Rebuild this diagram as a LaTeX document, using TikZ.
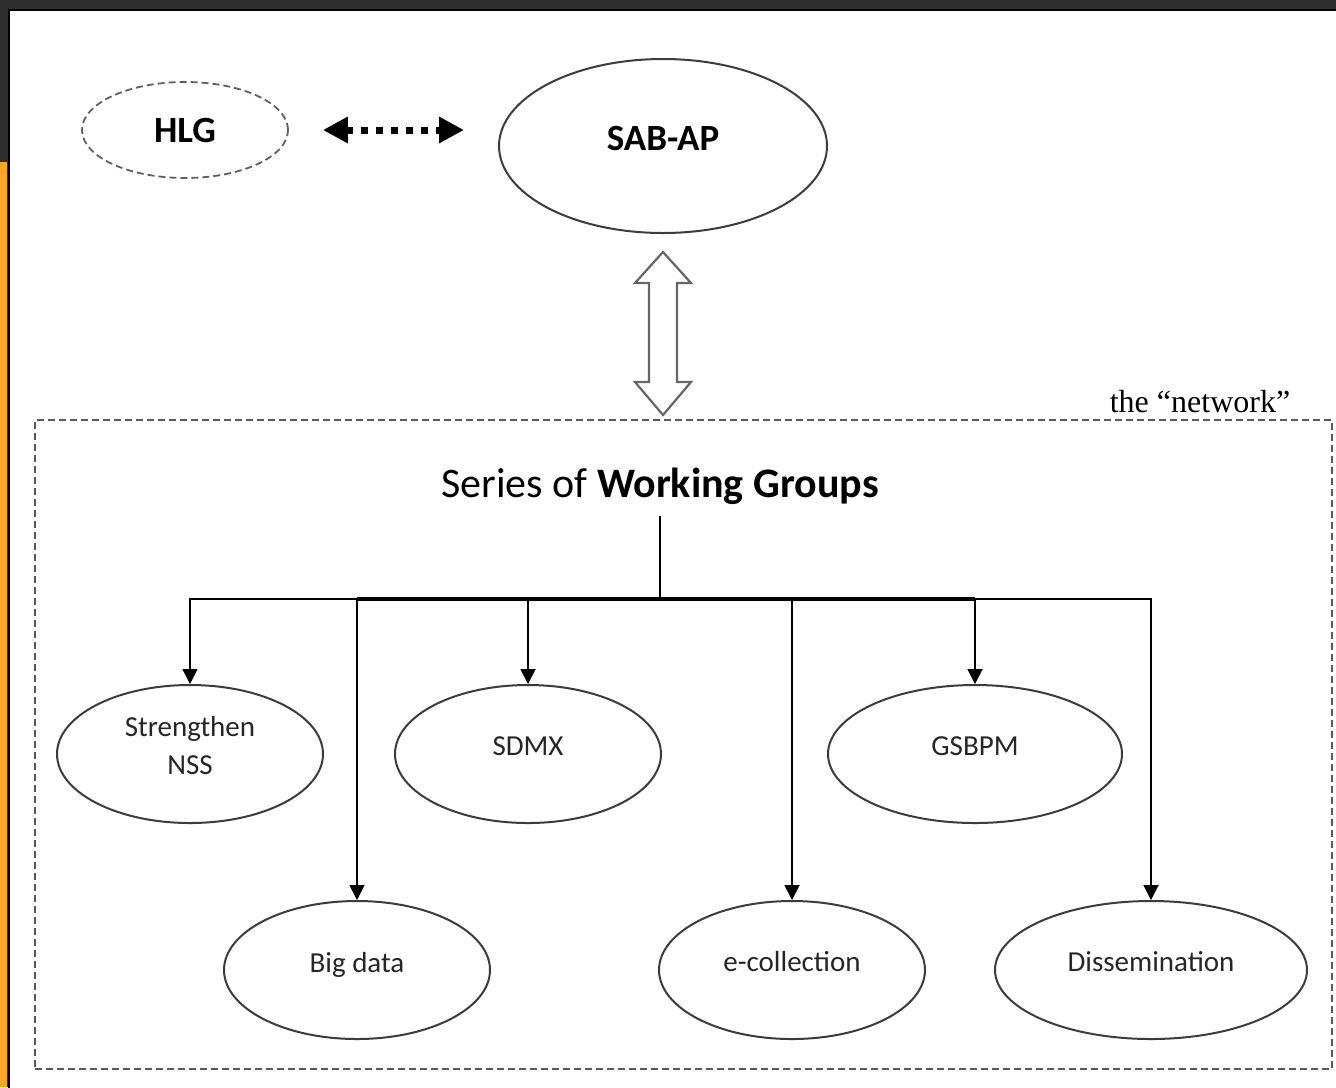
\documentclass[tikz,border=0pt]{standalone}
\usepackage{fontspec}
\setmainfont{Carlito}
\newfontfamily\netfont{Liberation Serif}
\usetikzlibrary{shapes.geometric,arrows.meta}

\definecolor{frame}{RGB}{46,46,46}
\definecolor{stripe}{RGB}{250,166,38}
\definecolor{rim}{RGB}{60,60,60}

\tikzstyle{outer} = [ellipse,draw=gray!75!black,dash pattern=on 3.5pt off 2pt,line width=0.9pt,inner sep=0pt,minimum width=103pt,minimum height=48pt,font=\fontsize{18.5}{22}\selectfont\bfseries]
\tikzstyle{body} = [ellipse,draw=rim,line width=1pt,inner sep=0pt,minimum width=164pt,minimum height=87pt,font=\fontsize{18.5}{22}\selectfont\bfseries,text height=12pt,text depth=8pt]
\tikzstyle{group} = [ellipse,draw=rim,line width=1pt,inner sep=0pt,minimum height=69pt]
\tikzstyle{grouptext} = [align=center,yshift=4pt,text=black!85,font=\fontsize{14.5}{19}\selectfont]
\tikzstyle{netbox} = [rectangle,draw=gray!70!black,dash pattern=on 3.5pt off 2pt,line width=0.9pt,minimum width=648.5pt,minimum height=324.5pt]
\tikzstyle{title} = [anchor=base,inner sep=5.5pt,font=\fontsize{21}{25}\selectfont]
\tikzstyle{dotarrow} = [{Triangle[length=12.5pt,width=12.5pt]}-{Triangle[length=12.5pt,width=12.5pt]},line width=3.5pt,dash pattern=on 3.5pt off 4pt,shorten <=17pt,shorten >=17pt]
\tikzstyle{hollow} = [draw=gray!80!black,line width=1.1pt,fill=white,line join=miter]
\tikzstyle{link} = [-{Triangle[length=7.5pt,width=7.5pt]},line width=0.9pt]

\begin{document}
\begin{tikzpicture}[x=0.5pt,y=-0.5pt]
		\useasboundingbox (0,0) rectangle (1336,1087);
		\fill[frame] (0,0) rectangle (1336,1087);
		\fill[stripe] (0,162) rectangle (7,1087);
		\filldraw[fill=white,draw=black,line width=1pt] (9,10) rectangle (1345,1095);
		\node[outer] (hlg) at (185,130) {HLG};
		\node[body] (sab) at (663,146) {SAB-AP};
		\draw[dotarrow] (hlg.east) -- (hlg.east -| sab.west);
		\draw[hollow] (663,252) -- (691,283) -- (677,283) -- (677,382) -- (691,382) -- (663,415) -- (635,382) -- (649,382) -- (649,283) -- (635,283) -- cycle;
		\node[netbox] (network) at (683.5,744.5) {};
		\node[anchor=base,font=\netfont\fontsize{16}{19}\selectfont] (netlabel) at (1200,412) {the “network”};
		\node[title] (title) at (660,497) {Series of \textbf{Working Groups}};
		\node[group,minimum width=133pt,label={[grouptext]center:Strengthen\\NSS}] (strength) at (190,754) {};
		\node[group,minimum width=133pt,label={[grouptext]center:SDMX}] (sdmx) at (528,754) {};
		\node[group,minimum width=147pt,label={[grouptext]center:GSBPM}] (gsbpm) at (975,754) {};
		\node[group,minimum width=133pt,label={[grouptext,text depth=0pt]center:Big data}] (bigdata) at (357,970) {};
		\node[group,minimum width=133pt,label={[grouptext]center:e-collection}] (ecoll) at (792,970) {};
		\node[group,minimum width=156pt,label={[grouptext]center:Dissemination}] (dissem) at (1151,970) {};
		\coordinate (bus) at (660,599);
		\draw[line width=0.9pt] (title.south) -- (bus);
		\draw[line width=1.6pt] (bus -| bigdata.north) -- (bus -| gsbpm.north);
		\draw[link] (bus) -| (strength.north);
		\draw[link] (bus) -| (sdmx.north);
		\draw[link] (bus) -| (gsbpm.north);
		\draw[link] (bus) -| (bigdata.north);
		\draw[link] (bus) -| (ecoll.north);
		\draw[link] (bus) -| (dissem.north);
\end{tikzpicture}
\end{document}
